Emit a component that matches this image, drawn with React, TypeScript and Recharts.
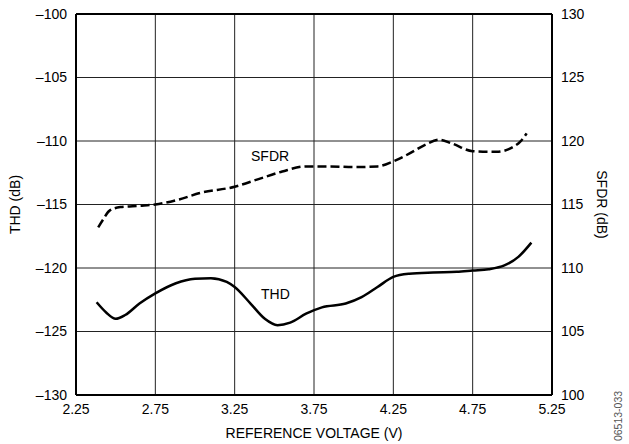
import React from 'react';
import {
  LineChart,
  Line,
  XAxis,
  YAxis,
  CartesianGrid,
  ReferenceLine,
} from 'recharts';

// reference voltage (V) -> THD (dB), left axis
const thdVolts = [2.38, 2.44, 2.5, 2.56, 2.65, 2.75, 2.88, 3.0, 3.1, 3.2, 3.25, 3.35, 3.44, 3.52, 3.6, 3.7, 3.8, 3.95, 4.05, 4.15, 4.25, 4.35, 4.5, 4.65, 4.75, 4.85, 4.95, 5.04, 5.12];
const thdValues = [-122.7, -123.5, -124.0, -123.7, -122.8, -122.0, -121.2, -120.85, -120.8, -121.1, -121.5, -122.8, -124.0, -124.5, -124.3, -123.6, -123.1, -122.8, -122.3, -121.5, -120.7, -120.45, -120.35, -120.3, -120.2, -120.1, -119.8, -119.1, -118.0];

// reference voltage (V) -> SFDR (dB), right axis
const sfdrVolts = [2.39, 2.42, 2.46, 2.53, 2.65, 2.75, 2.9, 3.03, 3.25, 3.4, 3.55, 3.7, 3.85, 4.0, 4.15, 4.25, 4.35, 4.45, 4.54, 4.62, 4.75, 4.9, 5.0, 5.05, 5.09];
const sfdrValues = [113.2, 113.8, 114.5, 114.8, 114.9, 115.0, 115.4, 115.9, 116.4, 117.0, 117.6, 118.0, 118.0, 117.95, 118.0, 118.4, 119.0, 119.7, 120.1, 119.8, 119.2, 119.15, 119.5, 119.95, 120.6];

const xTicks = [2.25, 2.75, 3.25, 3.75, 4.25, 4.75, 5.25];
const thdTicks = [-130, -125, -120, -115, -110, -105, -100];
const sfdrTicks = [100, 105, 110, 115, 120, 125, 130];

// one table for the chart, union of both voltage lists
const allVolts = Array.from(new Set([...thdVolts, ...sfdrVolts])).sort((a, b) => a - b);
const chartData = allVolts.map((v) => {
  const ti = thdVolts.indexOf(v);
  const si = sfdrVolts.indexOf(v);
  return {
    v,
    thd: ti >= 0 ? thdValues[ti] : undefined,
    sfdr: si >= 0 ? sfdrValues[si] : undefined,
  };
});

const FONT = '"Liberation Sans", Arial, sans-serif';
const tickStyle = { fill: '#000', fontSize: 14, fontFamily: FONT };
const minus = (n: number) => String(n).replace('-', '\u2013');

export default function App() {
  return (
    <div style={{ position: 'absolute', left: 0, top: 0, width: 629, height: 444, background: '#fff', fontFamily: FONT }}>
      <LineChart width={629} height={444} data={chartData} margin={{ top: 14, right: 0, bottom: 0, left: 0 }}>
        <CartesianGrid yAxisId="thd" stroke="#222" strokeWidth={1} />
        <XAxis
          type="number"
          dataKey="v"
          height={49}
          domain={[2.25, 5.25]}
          ticks={xTicks}
          tickFormatter={(v: number) => v.toFixed(2)}
          tick={tickStyle}
          tickSize={0}
          tickMargin={9}
          axisLine={false}
          label={{ value: 'REFERENCE VOLTAGE (V)', position: 'insideBottom', offset: 6, fill: '#000', fontSize: 14, fontFamily: FONT }}
        />
        <YAxis
          yAxisId="thd"
          width={76}
          domain={[-130, -100]}
          ticks={thdTicks}
          tickFormatter={minus}
          tick={tickStyle}
          tickSize={0}
          tickMargin={9}
          axisLine={false}
          label={{ value: 'THD (dB)', angle: -90, position: 'insideLeft', offset: 15, fill: '#000', fontSize: 14, fontFamily: FONT, style: { textAnchor: 'middle' } }}
        />
        <YAxis
          yAxisId="sfdr"
          orientation="right"
          width={77}
          domain={[100, 130]}
          ticks={sfdrTicks}
          tick={{ ...tickStyle, textAnchor: 'start' }}
          tickSize={0}
          tickMargin={9}
          axisLine={false}
          label={{ value: 'SFDR (dB)', angle: 90, position: 'insideRight', offset: 27, fill: '#000', fontSize: 14, fontFamily: FONT, style: { textAnchor: 'middle' } }}
        />
        <ReferenceLine yAxisId="thd" y={-100} stroke="#000" strokeWidth={2} />
        <ReferenceLine yAxisId="thd" y={-130} stroke="#000" strokeWidth={2} />
        <ReferenceLine yAxisId="thd" x={2.25} stroke="#000" strokeWidth={2} />
        <ReferenceLine yAxisId="thd" x={5.25} stroke="#000" strokeWidth={2} />
        <Line
          yAxisId="sfdr"
          dataKey="sfdr"
          type="monotone"
          connectNulls
          stroke="#000"
          strokeWidth={2.5}
          strokeDasharray="9 4"
          dot={false}
          isAnimationActive={false}
        />
        <Line
          yAxisId="thd"
          dataKey="thd"
          type="monotone"
          connectNulls
          stroke="#000"
          strokeWidth={2.5}
          dot={false}
          isAnimationActive={false}
        />
      </LineChart>
      <div style={{ position: 'absolute', left: 251, top: 148, fontSize: 14, color: '#000' }}>SFDR</div>
      <div style={{ position: 'absolute', left: 261, top: 286, fontSize: 14, color: '#000' }}>THD</div>
      <div
        style={{
          position: 'absolute',
          left: 618,
          top: 416,
          fontSize: 10.5,
          color: '#555',
          transform: 'translate(-50%, -50%) rotate(-90deg)',
          whiteSpace: 'nowrap',
        }}
      >
        06513-033
      </div>
    </div>
  );
}
